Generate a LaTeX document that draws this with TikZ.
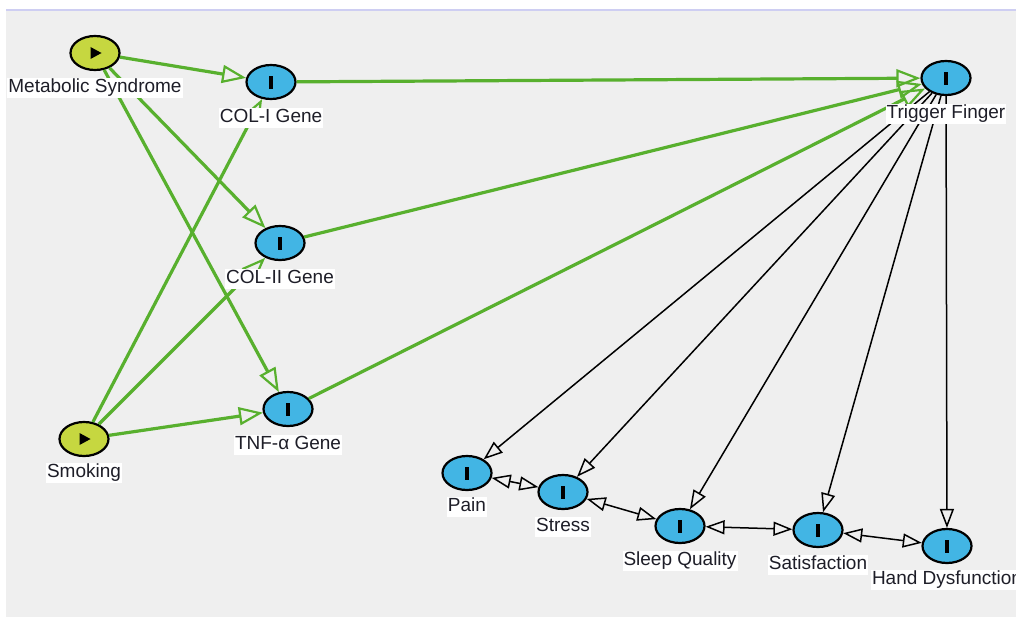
\documentclass[tikz,border=0pt]{standalone}
\usepackage{fontspec}
\setmainfont{Liberation Sans}
\usetikzlibrary{shapes.geometric,arrows.meta}

\definecolor{canvas}{RGB}{239,239,239}
\definecolor{frameline}{RGB}{206,206,242}
\definecolor{exposure}{RGB}{198,215,64}
\definecolor{outcomeblue}{RGB}{66,181,228}
\definecolor{causal}{RGB}{88,176,46}
\definecolor{labelink}{RGB}{30,30,40}

\begin{document}
\begin{tikzpicture}[x=1pt,y=-1pt,
  var/.style={ellipse, draw=black, line width=2.2pt, inner sep=0pt,
    minimum width=49pt, minimum height=34pt},
  expnode/.style={var, fill=exposure,
    path picture={\fill[black] ([xshift=-4.5pt,yshift=6pt]path picture bounding box.center)
      -- ++(11pt,-6pt) -- ++(-11pt,-6pt) -- cycle;}},
  outnode/.style={var, fill=outcomeblue,
    path picture={\fill[black] ([xshift=-2pt,yshift=-6.5pt]path picture bounding box.center)
      rectangle ++(4pt,13pt);}},
  tag/.style={fill=white, text=labelink, inner sep=1pt, text height=13.8pt, text depth=4pt,
    font=\fontsize{19pt}{22pt}\selectfont},
  gtip/.tip={Triangle[open, length=24pt, width=18pt, line width=2.2pt]},
  btip/.tip={Triangle[open, length=19pt, width=14pt, line width=1.5pt]},
  causalarrow/.style={draw=causal, line width=3.2pt, -gtip},
  effectarrow/.style={draw=black, line width=1.5pt, -btip},
  assocarrow/.style={draw=black, line width=1.5pt, btip-btip},
]
\useasboundingbox (0,0) rectangle (1016,618);
\fill[white] (0,0) rectangle (1016,618);
\fill[canvas] (6,10) rectangle (1016,617);
\draw[frameline, line width=1.5pt] (6,10) -- (1016,10);

% variables
\node[expnode] (metsyn) at (95,53) {};
\node[expnode] (smoke)  at (84,439) {};
\node[outnode] (col1)   at (271,82) {};
\node[outnode] (col2)   at (280,243) {};
\node[outnode] (tnf)    at (288,409) {};
\node[outnode] (trig)   at (946,78) {};
\node[outnode] (pain)   at (467,473) {};
\node[outnode] (stress) at (563,492) {};
\node[outnode] (sleep)  at (680,526) {};
\node[outnode] (satis)  at (818,530) {};
\node[outnode] (hand)   at (947,546) {};

% causal paths through the genes
\draw[causalarrow] (metsyn) -- (col1);
\draw[causalarrow] (metsyn) -- (col2);
\draw[causalarrow] (metsyn) -- (tnf);
\draw[causalarrow] (smoke) -- (col1);
\draw[causalarrow] (smoke) -- (col2);
\draw[causalarrow] (smoke) -- (tnf);
\draw[causalarrow] (col1) -- (trig);
\draw[causalarrow] (col2) -- (trig);
\draw[causalarrow] (tnf) -- (trig);

% consequences of trigger finger
\draw[effectarrow] (trig) -- (pain);
\draw[effectarrow] (trig) -- (stress);
\draw[effectarrow] (trig) -- (sleep);
\draw[effectarrow] (trig) -- (satis);
\draw[effectarrow] (trig) -- (hand);

% associations between outcomes
\draw[assocarrow] (pain) -- (stress);
\draw[assocarrow] (stress) -- (sleep);
\draw[assocarrow] (sleep) -- (satis);
\draw[assocarrow] (satis) -- (hand);

% labels
\node[tag] (metsynL) at (95,88)   {Metabolic Syndrome};
\node[tag] (smokeL)  at (84,473)  {Smoking};
\node[tag] (col1L)   at (271,118) {COL-I Gene};
\node[tag] (col2L)   at (280,279) {COL-II Gene};
\node[tag] (tnfL)    at (288,445) {TNF-α Gene};
\node[tag] (trigL)   at (946,114) {Trigger Finger};
\node[tag] (painL)   at (467,507) {Pain};
\node[tag] (stressL) at (563,527) {Stress};
\node[tag] (sleepL)  at (680,561) {Sleep Quality};
\node[tag] (satisL)  at (818,565) {Satisfaction};
\node[tag] (handL)   at (947,580) {Hand Dysfunction};
\end{tikzpicture}
\end{document}
